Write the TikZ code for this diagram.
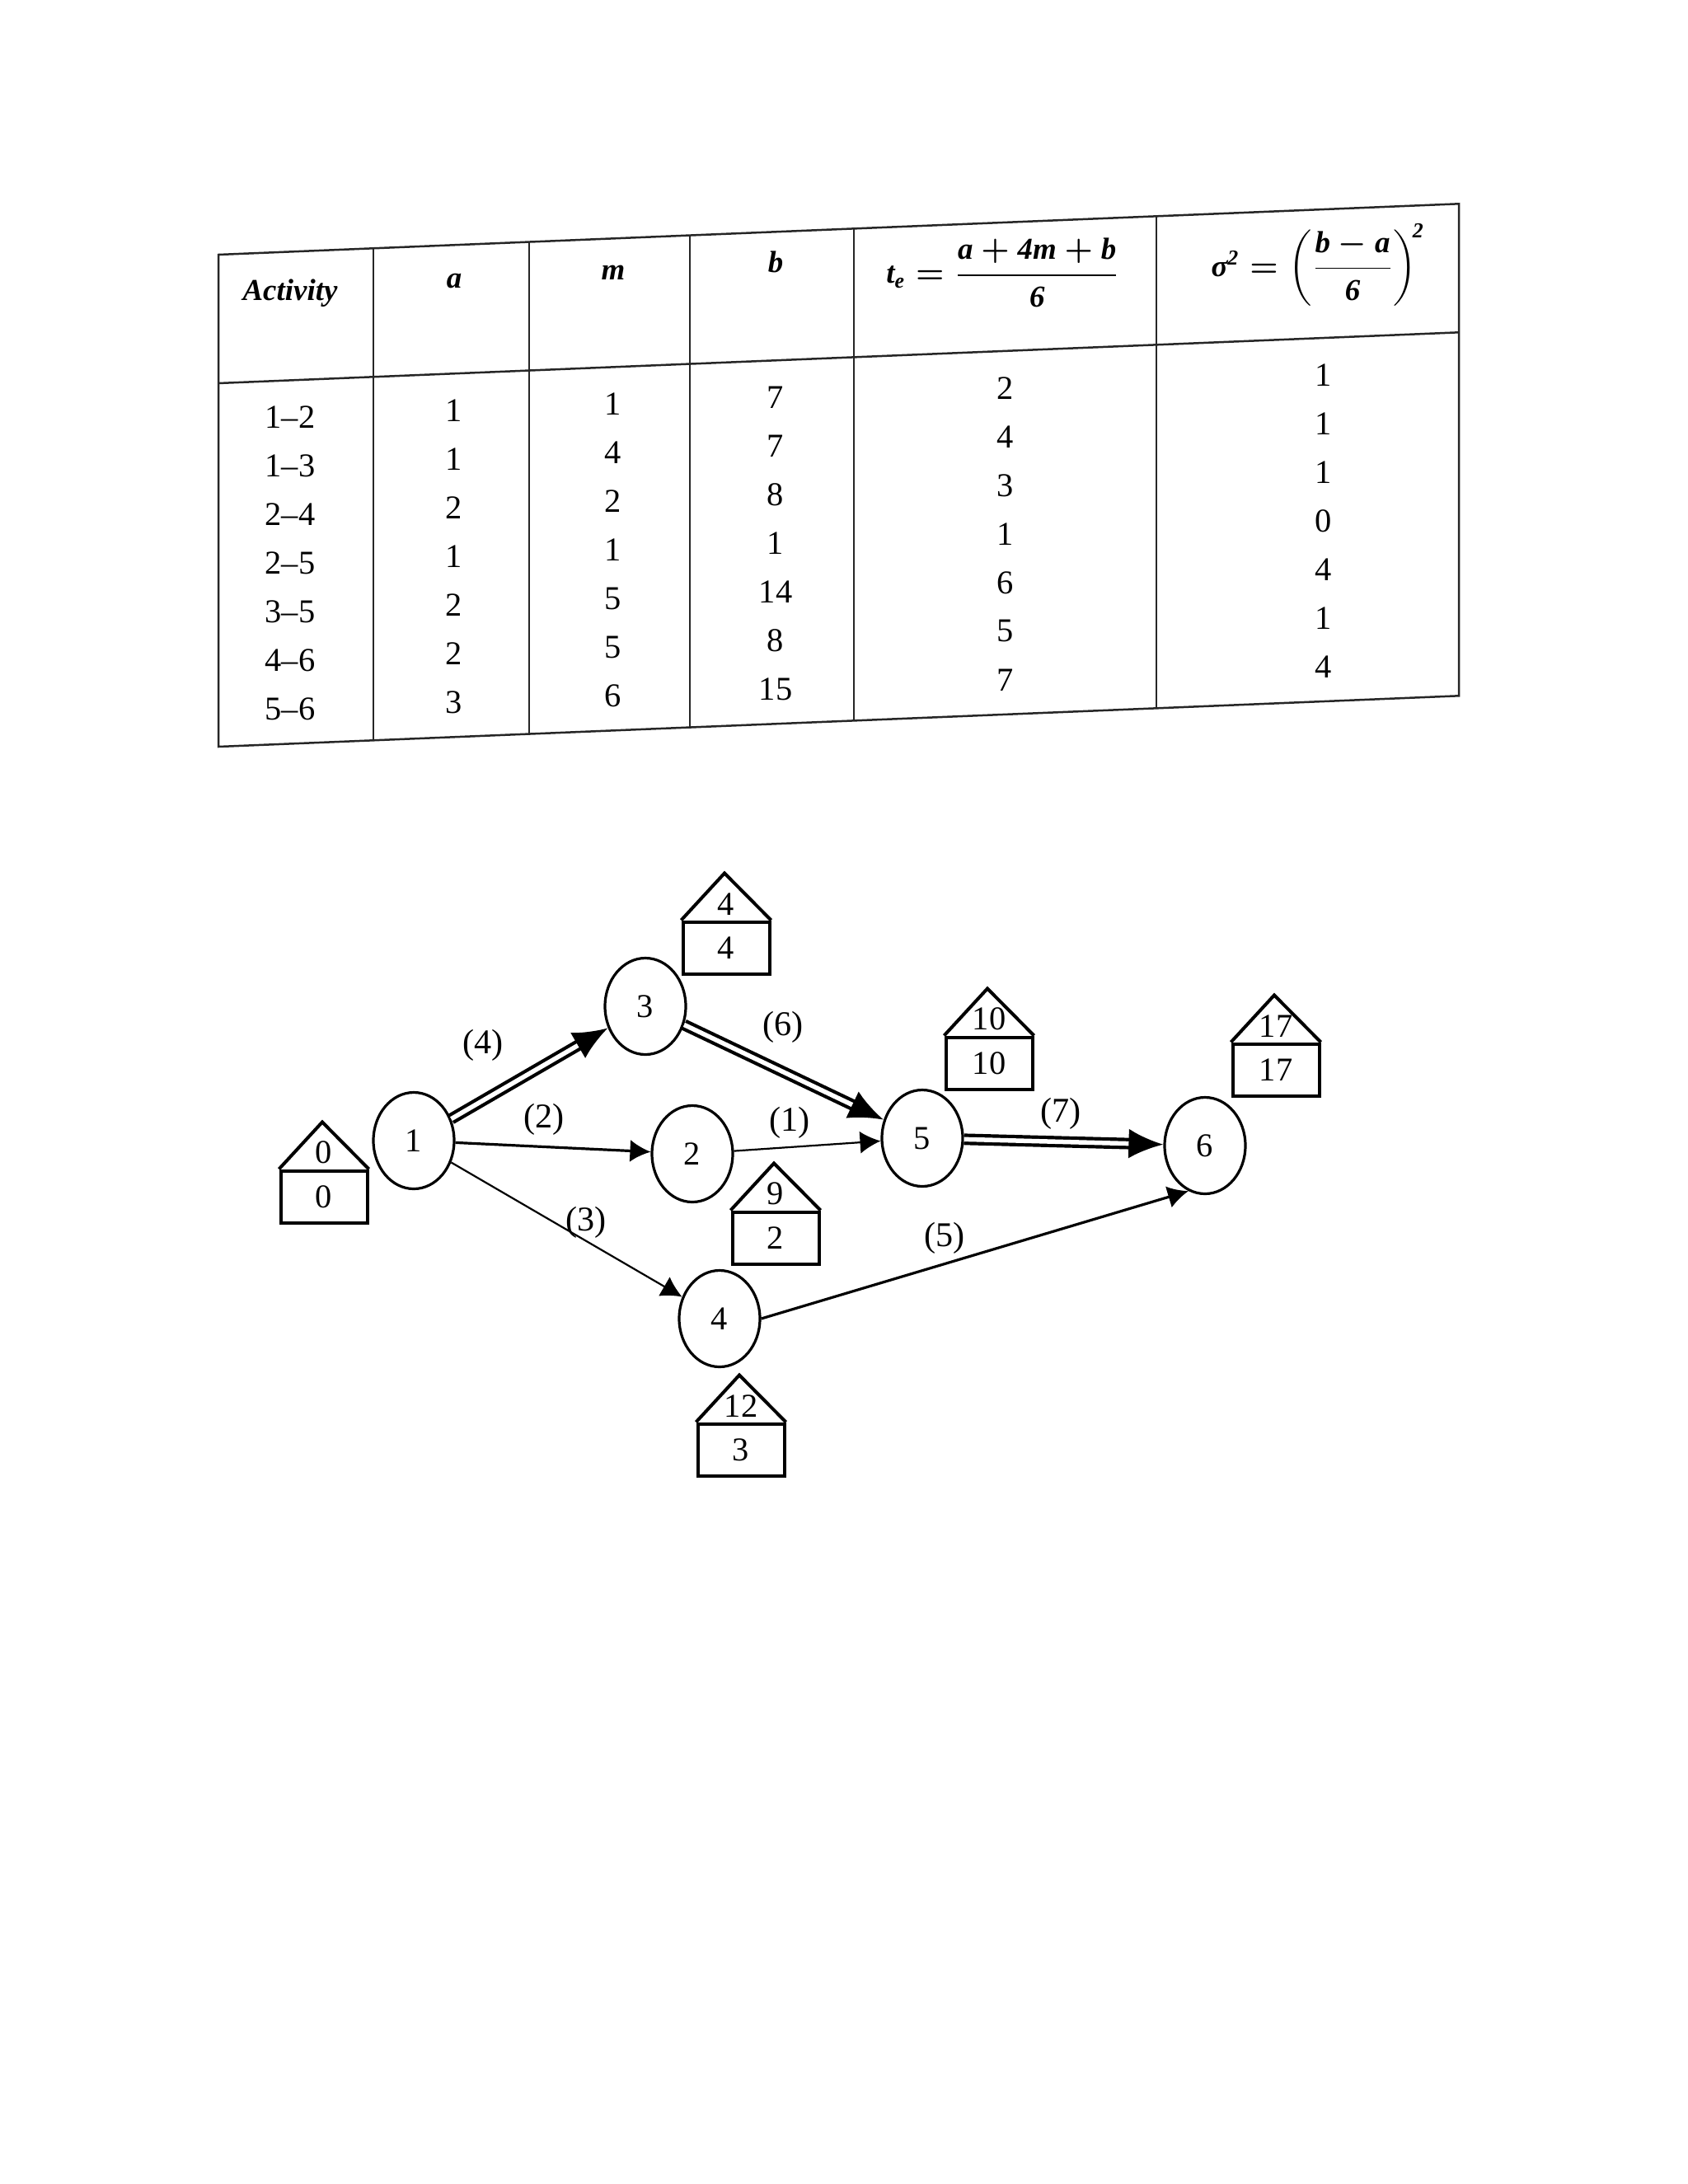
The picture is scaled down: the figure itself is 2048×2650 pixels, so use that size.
\documentclass[tikz,border=0pt]{standalone}
\usepackage{amsmath}
\usepackage{fontspec}
\setmainfont{Liberation Serif}
\usetikzlibrary{positioning,arrows.meta,shapes.geometric}
\newcommand{\bfit}[1]{\textbf{\textit{#1}}}

\begin{document}
\begin{tikzpicture}[x=0.1mm, y=-0.1mm, font=\fontsize{11.5}{13}\selectfont, line width=0.25mm,
  tline/.style={line width=0.25mm, draw=black!85},
  cell/.style={inner sep=0pt},
  head/.style={inner sep=0pt, font=\fontsize{10.5}{12}\selectfont\bfseries\itshape\boldmath},
  ev/.style={draw, ellipse, line width=0.32mm, minimum width=9.8mm, minimum height=11.7mm, inner sep=0pt},
  hbox/.style={draw, line width=0.4mm, minimum width=10.5mm, minimum height=6.3mm, inner sep=0pt},
  htop/.style={anchor=south, inner sep=0pt, yshift=0.5mm},
  roof/.style={line width=0.4mm, line join=miter},
  elab/.style={inner sep=0pt, font=\fontsize{12}{14}\selectfont},
  crit/.style={double, double distance=0.55mm, line width=0.42mm, -{Latex[length=4.2mm, width=3.6mm]}},
  act/.style={line width=0.32mm, -{Latex[length=2.5mm, width=2.7mm]}},
  lact/.style={act, line width=0.22mm},
]
\fill[white] (0,0) rectangle (2048,2650);
\useasboundingbox (0,0) rectangle (2048,2650);

% ---------------- table (page photographed a little askew) ----------------
\begin{scope}[shift={(265,0)}, yslant=0.041]
\draw[tline] (0,309) rectangle (1505,906);
\draw[tline] (0,465) -- (1505,465);
\foreach \cx in {188,377,572,771,1138} \draw[tline] (\cx,309) -- (\cx,906);
\node[head] (hact) at (87,359) {Activity};
\node[head] (ha)   at (286,353) {a};
\node[head] (hm)   at (479,350) {m};
\node[head] (hb)   at (676,346) {b};
\node[head] (hte)  at (952,370) {$\bfit{t}_{\bfit{e}} = \dfrac{\bfit{a} + \bfit{4m} + \bfit{b}}{\bfit{6}}$};
\node[head] (hsig) at (1334,376) {$\bfit{σ}^{\bfit{2}} = \left(\dfrac{\bfit{b} - \bfit{a}}{\bfit{6}}\right)^{\!\bfit{2}}$};
\foreach \act/\va/\vm/\vb/\vt/\vs [count=\r from 0] in
  {1--2/1/1/7/2/1, 1--3/1/4/7/4/1, 2--4/2/2/8/3/1, 2--5/1/1/1/1/0,
   3--5/2/5/14/6/4, 4--6/2/5/8/5/1, 5--6/3/6/15/7/4} {
  \node[cell] (act\r) at (87,{510+59*\r})   {\act};
  \node[cell] (a\r)   at (286,{510+59*\r})  {\va};
  \node[cell] (m\r)   at (479,{510+59*\r})  {\vm};
  \node[cell] (b\r)   at (676,{510+59*\r})  {\vb};
  \node[cell] (te\r)  at (955,{510+59*\r})  {\vt};
  \node[cell] (sg\r)  at (1341,{510+59*\r}) {\vs};
}
\end{scope}

% ---------------- network ----------------
\node[ev] (e1) at (502,1384) {1};
\node[ev] (e3) at (783,1221) {3};
\node[ev] (e2) at (840,1400) {2};
\node[ev] (e5) at (1119,1381) {5};
\node[ev] (e6) at (1462,1390) {6};
\node[ev] (e4) at (873,1600) {4};
% event boxes: earliest time in the roof, latest time below
\node[hbox] (b1) at (393,1452) {0};
\draw[roof] (b1.north west) -- ++(52.5,-57) -- (b1.north east);
\node[htop] (t1) at (b1.north) {0};
\node[hbox] (b3) at (881,1150) {4};
\draw[roof] (b3.north west) -- ++(52.5,-57) -- (b3.north east);
\node[htop] (t3) at (b3.north) {4};
\node[hbox] (b2) at (941,1502) {2};
\draw[roof] (b2.north west) -- ++(52.5,-57) -- (b2.north east);
\node[htop] (t2) at (b2.north) {9};
\node[hbox] (b5) at (1200,1290) {10};
\draw[roof] (b5.north west) -- ++(52.5,-57) -- (b5.north east);
\node[htop] (t5) at (b5.north) {10};
\node[hbox] (b6) at (1548,1298) {17};
\draw[roof] (b6.north west) -- ++(52.5,-57) -- (b6.north east);
\node[htop] (t6) at (b6.north) {17};
\node[hbox] (b4) at (899,1759) {3};
\draw[roof] (b4.north west) -- ++(52.5,-57) -- (b4.north east);
\node[htop] (t4) at (b4.north) {12};
% activities, critical path doubled
\draw[crit] (e1) -- (e3);
\draw[crit] (e3) -- (e5);
\draw[crit] (e5) -- (e6);
\draw[act]  (e1) -- (e2);
\draw[lact] (e2) -- (e5);
\draw[lact] (e1) -- (e4);
\draw[act]  (e4.east) -- (e6.250);
\node[elab] (l4) at (586,1268) {(4)};
\node[elab] (l2) at (660,1358) {(2)};
\node[elab] (l3) at (711,1483) {(3)};
\node[elab] (l6) at (950,1246) {(6)};
\node[elab] (l1) at (958,1362) {(1)};
\node[elab] (l7) at (1287,1351) {(7)};
\node[elab] (l5) at (1146,1502) {(5)};
\end{tikzpicture}
\end{document}
